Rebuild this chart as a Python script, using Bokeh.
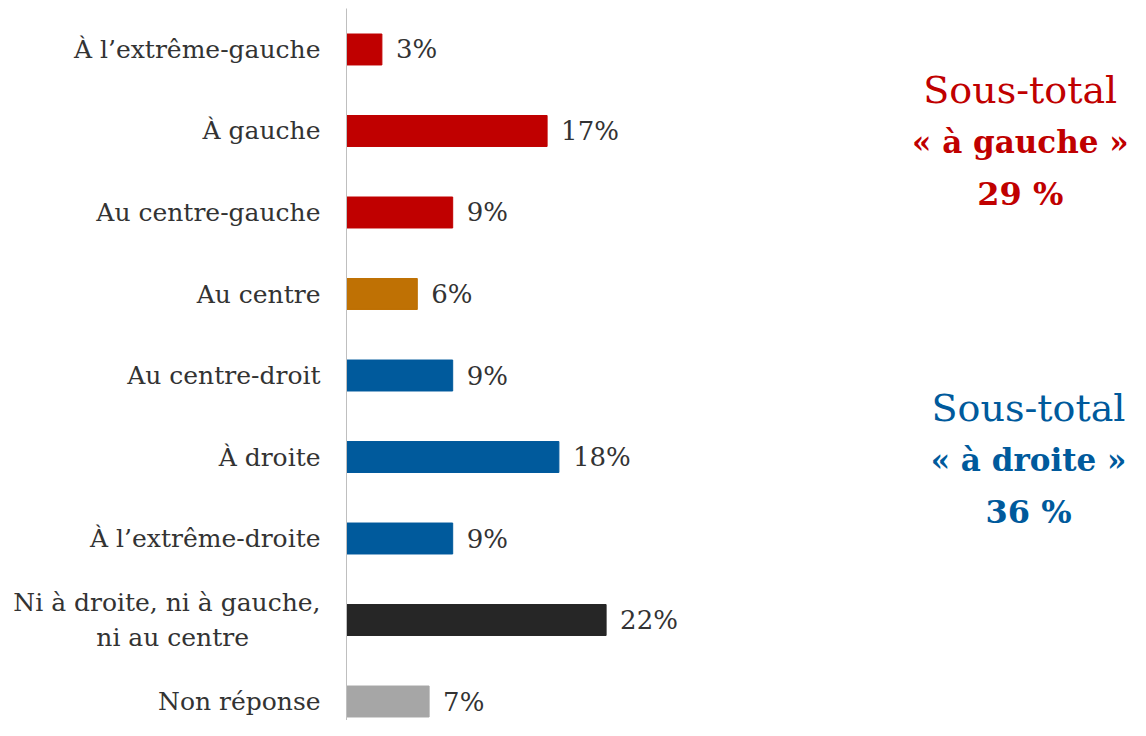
from bokeh.plotting import figure
from bokeh.models import Range1d, ColumnDataSource, FixedTicker
from bokeh.core.properties import value
from bokeh.embed import file_html
from bokeh.resources import INLINE

NB = "\u00a0"
categories = ["À l\u2019extrême-gauche", "À gauche", "Au centre-gauche", "Au centre",
              "Au centre-droit", "À droite", "À l\u2019extrême-droite",
              "Ni à droite, ni à gauche,\nni au centre" + NB * 9, "Non réponse"]
values = [3, 17, 9, 6, 9, 18, 9, 22, 7]
colors = ["#C00000", "#C00000", "#C00000", "#BF7104", "#005A9C", "#005A9C", "#005A9C", "#262626", "#A6A6A6"]
value_labels = [f"{v}%" for v in values]

left_total_lines = ["Sous-total", "« à gauche »", "29 %"]
right_total_lines = ["Sous-total", "« à droite »", "36 %"]

FONT = "DejaVu Serif"
TXT = "#333333"

ypos = list(range(len(categories)))
src = ColumnDataSource(dict(y=ypos, v=values, c=colors, lab=value_labels))

p = figure(width=1130, height=720, output_backend="svg", toolbar_location=None,
           x_range=Range1d(0, 66.44), y_range=Range1d(8.233, -0.503),
           min_border_left=346, min_border_right=0, min_border_top=8, min_border_bottom=0)
p.outline_line_color = None
p.grid.visible = False
p.xaxis.visible = False

p.hbar(y="y", right="v", left=0, height=0.38, color="c", source=src)
p.text(x="v", y="y", text="lab", source=src, x_offset=14, text_baseline="middle",
       text_align="left", text_font=value(FONT), text_font_size="26px", text_color=TXT)

ya = p.yaxis[0]
ya.ticker = FixedTicker(ticks=ypos)
ya.major_label_overrides = {i: c for i, c in enumerate(categories)}
ya.major_tick_line_color = None
ya.minor_tick_line_color = None
ya.axis_line_color = "#BFBFBF"
ya.axis_line_width = 1
ya.major_label_text_font = FONT
ya.major_label_text_font_size = "25px"
ya.major_label_text_color = TXT
ya.major_label_text_line_height = 1.2
ya.major_label_standoff = 20

red_y = [0.503, 1.141, 1.767]
blue_y = [4.393, 5.031, 5.669]
styles = ["normal", "bold", "bold"]
sizes = ["38px", "31px", "32px"]
for i in range(3):
    p.text(x=[57.1], y=[red_y[i]], text=[left_total_lines[i]], text_align="center",
           text_baseline="middle", text_font=value(FONT), text_font_size=sizes[i],
           text_font_style=styles[i], text_color="#C00000")
    p.text(x=[57.8], y=[blue_y[i]], text=[right_total_lines[i]], text_align="center",
           text_baseline="middle", text_font=value(FONT), text_font_size=sizes[i],
           text_font_style=styles[i], text_color="#005A9C")

open("out.html", "w").write(file_html(p, INLINE))
